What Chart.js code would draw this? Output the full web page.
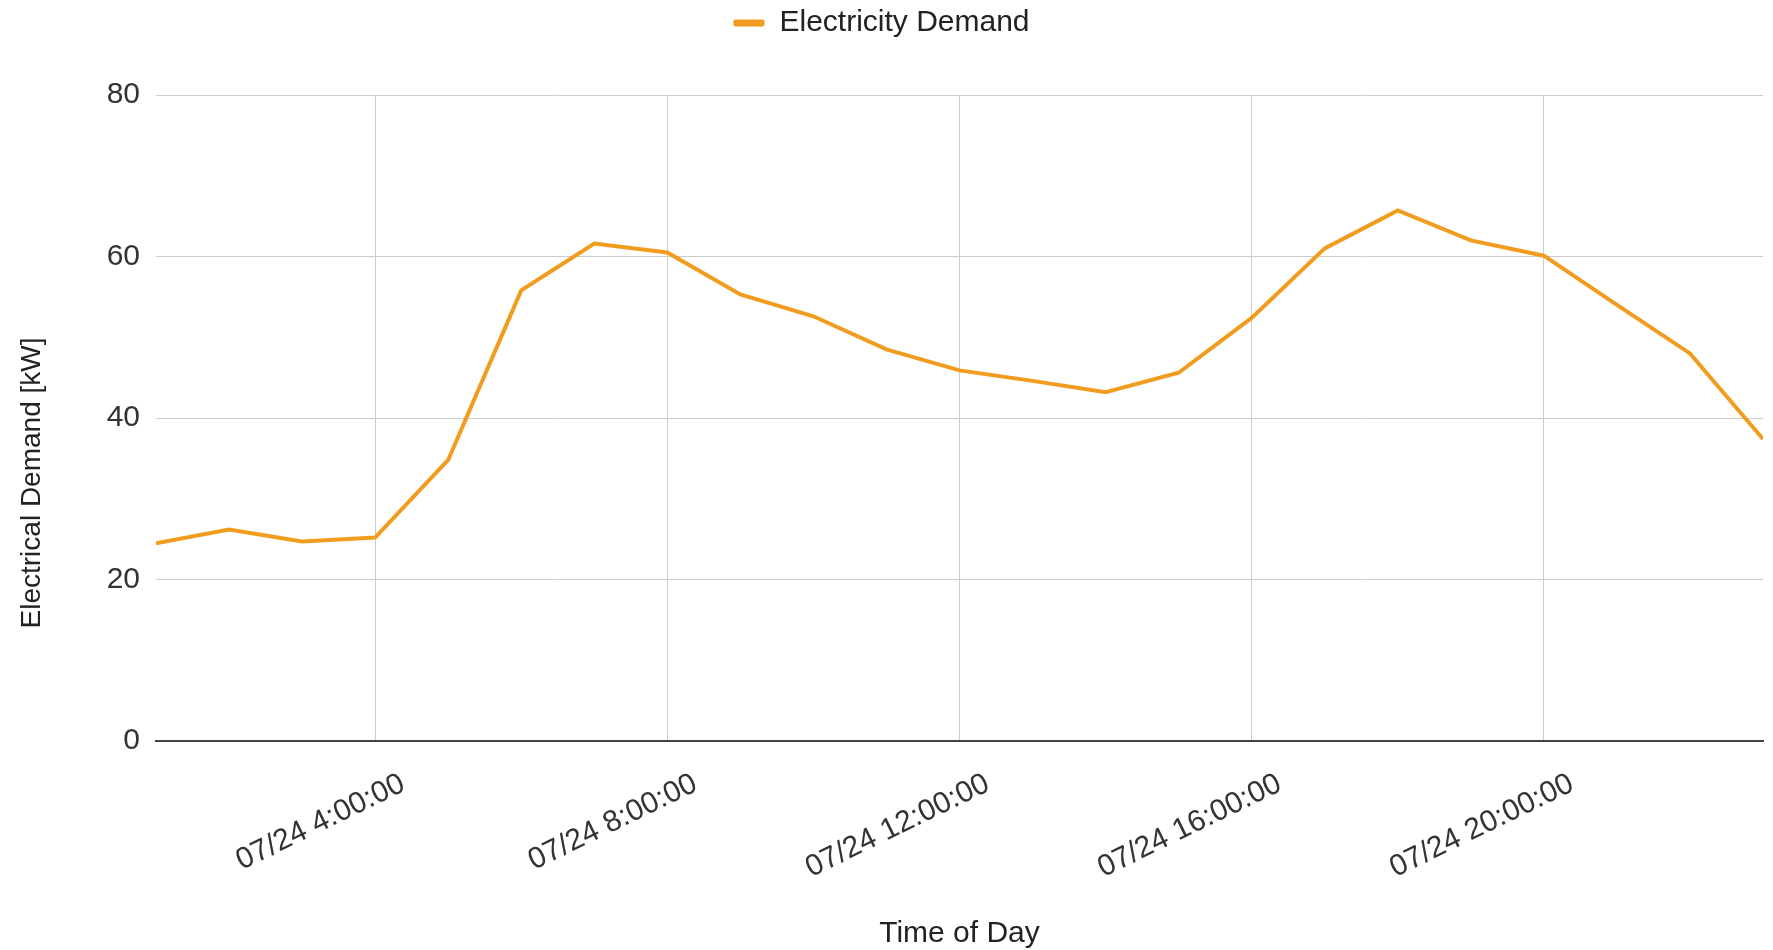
<!DOCTYPE html>
<html>
<head>
<meta charset="utf-8">
<script src="https://cdn.jsdelivr.net/npm/chart.js@4.4.1/dist/chart.umd.min.js"></script>
<style>
  html, body { margin: 0; padding: 0; background: #fff; }
  #wrap { width: 1773px; height: 950px; }
</style>
</head>
<body>
<div id="wrap"><canvas id="demandChart" width="1773" height="950"></canvas></div>
<script>
// hourly readings, 07/24 1:00 .. 23:00
let hours = [1, 2, 3, 4, 5, 6, 7, 8, 9, 10, 11, 12, 13, 14, 15, 16, 17, 18, 19, 20, 21, 22, 23];
let demand = [24.5, 26.2, 24.7, 25.2, 34.8, 55.8, 61.6, 60.5, 55.3, 52.6, 48.5, 45.9,
	44.6, 43.2, 45.6, 52.4, 61.0, 65.7, 62.0, 60.1, 54.0, 48.0, 37.4];
let tickHours = [4, 8, 12, 16, 20];
let tickLabels = ["07/24 4:00:00", "07/24 8:00:00", "07/24 12:00:00", "07/24 16:00:00", "07/24 20:00:00"];
let yTicks = [0, 20, 40, 60, 80];

let seriesName = "Electricity Demand";
let xTitle = "Time of Day";
let yTitle = "Electrical Demand [kW]";

let fontFamily = "'Liberation Sans', Arial, sans-serif";
let lineColor = "#f29c1f";

Chart.defaults.font.family = fontFamily;
Chart.defaults.font.size = 30;
Chart.defaults.color = "#444";

// y title is centred on the whole canvas height, like the original
let yTitlePlugin = {
	id: "yTitle",
	afterDraw(chart) {
		let ctx = chart.ctx;
		ctx.save();
		ctx.translate(32, chart.height / 2 + 8);
		ctx.rotate(-Math.PI / 2);
		ctx.font = "28px " + fontFamily;
		ctx.fillStyle = "#222";
		ctx.textAlign = "center";
		ctx.textBaseline = "middle";
		ctx.fillText(yTitle, 0, 0);
		ctx.restore();
	}
};

let points = hours.map((h, i) => ({ x: h, y: demand[i] }));

let data = {
	datasets: [
		{
			label: seriesName,
			data: points,
			borderColor: lineColor,
			backgroundColor: lineColor,
			borderWidth: 4,
			pointRadius: 0,
			tension: 0
		}
	]
};

let options = {
	responsive: false,
	animation: false,
	layout: { padding: { top: 0, right: 10, bottom: 0, left: 0 } },
	plugins: {
		legend: {
			position: "top",
			weight: 1000,
			labels: {
				padding: 8,
				boxWidth: 31,
				boxHeight: 7,
				color: "#222",
				useBorderRadius: true,
				borderRadius: 2,
				generateLabels: (chart) =>
					Chart.defaults.plugins.legend.labels.generateLabels(chart).map(item => ({ ...item, lineWidth: 0 }))
			}
		},
		// empty title used as a spacer between legend and plot
		title: {
			display: true,
			text: "",
			weight: 500,
			font: { size: 10 },
			padding: { top: 0, bottom: 35 }
		},
		tooltip: { enabled: false }
	},
	scales: {
		x: {
			type: "linear",
			min: hours[0],
			max: hours[hours.length - 1],
			afterBuildTicks: (scale) => {
				scale.ticks = tickHours.map(v => ({ value: v }));
			},
			afterFit: (scale) => {
				scale.height = 209;
			},
			ticks: {
				autoSkip: false,
				maxRotation: 26,
				minRotation: 26,
				padding: 25,
				labelOffset: 28,
				color: "#333",
				callback: (value) => tickLabels[tickHours.indexOf(value)]
			},
			grid: { color: "#cccccc", lineWidth: 1, drawTicks: false },
			border: { display: true, color: "#444", width: 2 },
			title: {
				display: true,
				text: xTitle,
				color: "#222",
				font: { lineHeight: 1.1 },
				padding: { top: 0, bottom: 0 }
			}
		},
		y: {
			min: yTicks[0],
			max: yTicks[yTicks.length - 1],
			afterBuildTicks: (scale) => {
				scale.ticks = yTicks.map(v => ({ value: v }));
			},
			afterFit: (scale) => {
				scale.width = 156;
			},
			ticks: { padding: 16, color: "#333" },
			grid: {
				color: (c) => (c.tick && c.tick.value === 0 ? "rgba(0,0,0,0)" : "#cccccc"),
				lineWidth: 1,
				drawTicks: false
			},
			border: { display: false }
		}
	}
};

let ctx = document.getElementById("demandChart").getContext("2d");
let demandChart = new Chart(ctx, {
	type: "line",
	data: data,
	options: options,
	plugins: [yTitlePlugin]
});
</script>
</body>
</html>
